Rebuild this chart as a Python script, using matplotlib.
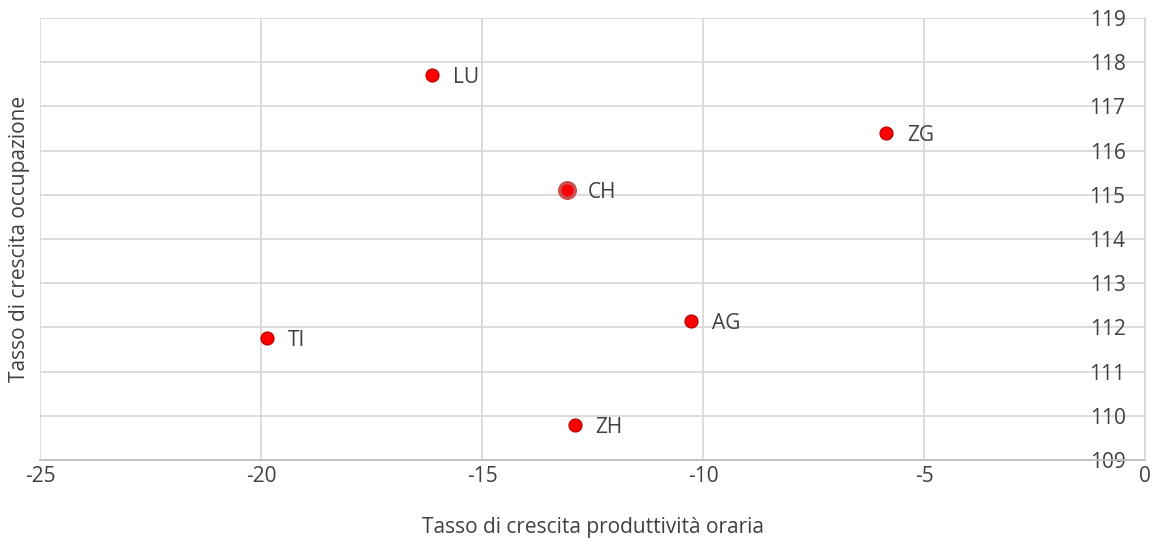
import matplotlib.pyplot as plt

cantons = ["LU", "ZG", "CH", "AG", "TI", "ZH"]
prod_growth = [-16.13, -5.86, -13.08, -10.27, -19.86, -12.90]
occ_growth = [117.71, 116.40, 115.11, 112.14, 111.76, 109.79]

plt.rcParams['font.family'] = ['Open Sans', 'DejaVu Sans']
plt.rcParams['axes.unicode_minus'] = False
txt = '#404040'
grid = '#D9D9D9'
fs = 15

fig = plt.figure(figsize=(11.58, 5.44), dpi=100)
ax = fig.add_axes([40 / 1158, 84 / 544, 1105 / 1158, 442 / 544])

for name, x, y in zip(cantons, prod_growth, occ_growth):
    if name == "CH":
        ax.scatter(x, y, s=125, color='#FF0000', edgecolor='#C85050', linewidth=2.5, zorder=3)
    else:
        ax.scatter(x, y, s=85, color='#FF0000', edgecolor='#C00000', linewidth=1, zorder=3)
    ax.annotate(name, (x, y), xytext=(15, -2), textcoords='offset points',
                ha='left', va='center', fontsize=fs, color=txt)

ax.set_xlim(-25, 0)
ax.set_ylim(109, 119)
ax.set_xticks(range(-25, 1, 5))
ax.set_yticks(range(109, 120))
ax.grid(True, color=grid, linewidth=1.3)
ax.set_axisbelow(True)

for s in ['top', 'left']:
    ax.spines[s].set_visible(False)
ax.spines['right'].set_color(grid)
ax.spines['right'].set_linewidth(1.3)
ax.spines['bottom'].set_color('#BFBFBF')
ax.spines['bottom'].set_linewidth(1.3)

ax.yaxis.tick_right()
ax.tick_params(axis='y', length=0, pad=-14, labelsize=fs, labelcolor=txt)
for lab in ax.get_yticklabels():
    lab.set_horizontalalignment('right')
ax.tick_params(axis='x', length=0, pad=4, labelsize=fs, labelcolor=txt)

ax.set_xlabel("Tasso di crescita produttività oraria", fontsize=fs, color=txt, labelpad=22)
ax.set_ylabel("Tasso di crescita occupazione", fontsize=fs, color=txt)
ax.yaxis.set_label_position('left')
ax.yaxis.set_label_coords(-0.009, 0.5)

fig.savefig('out.png', dpi=100)
